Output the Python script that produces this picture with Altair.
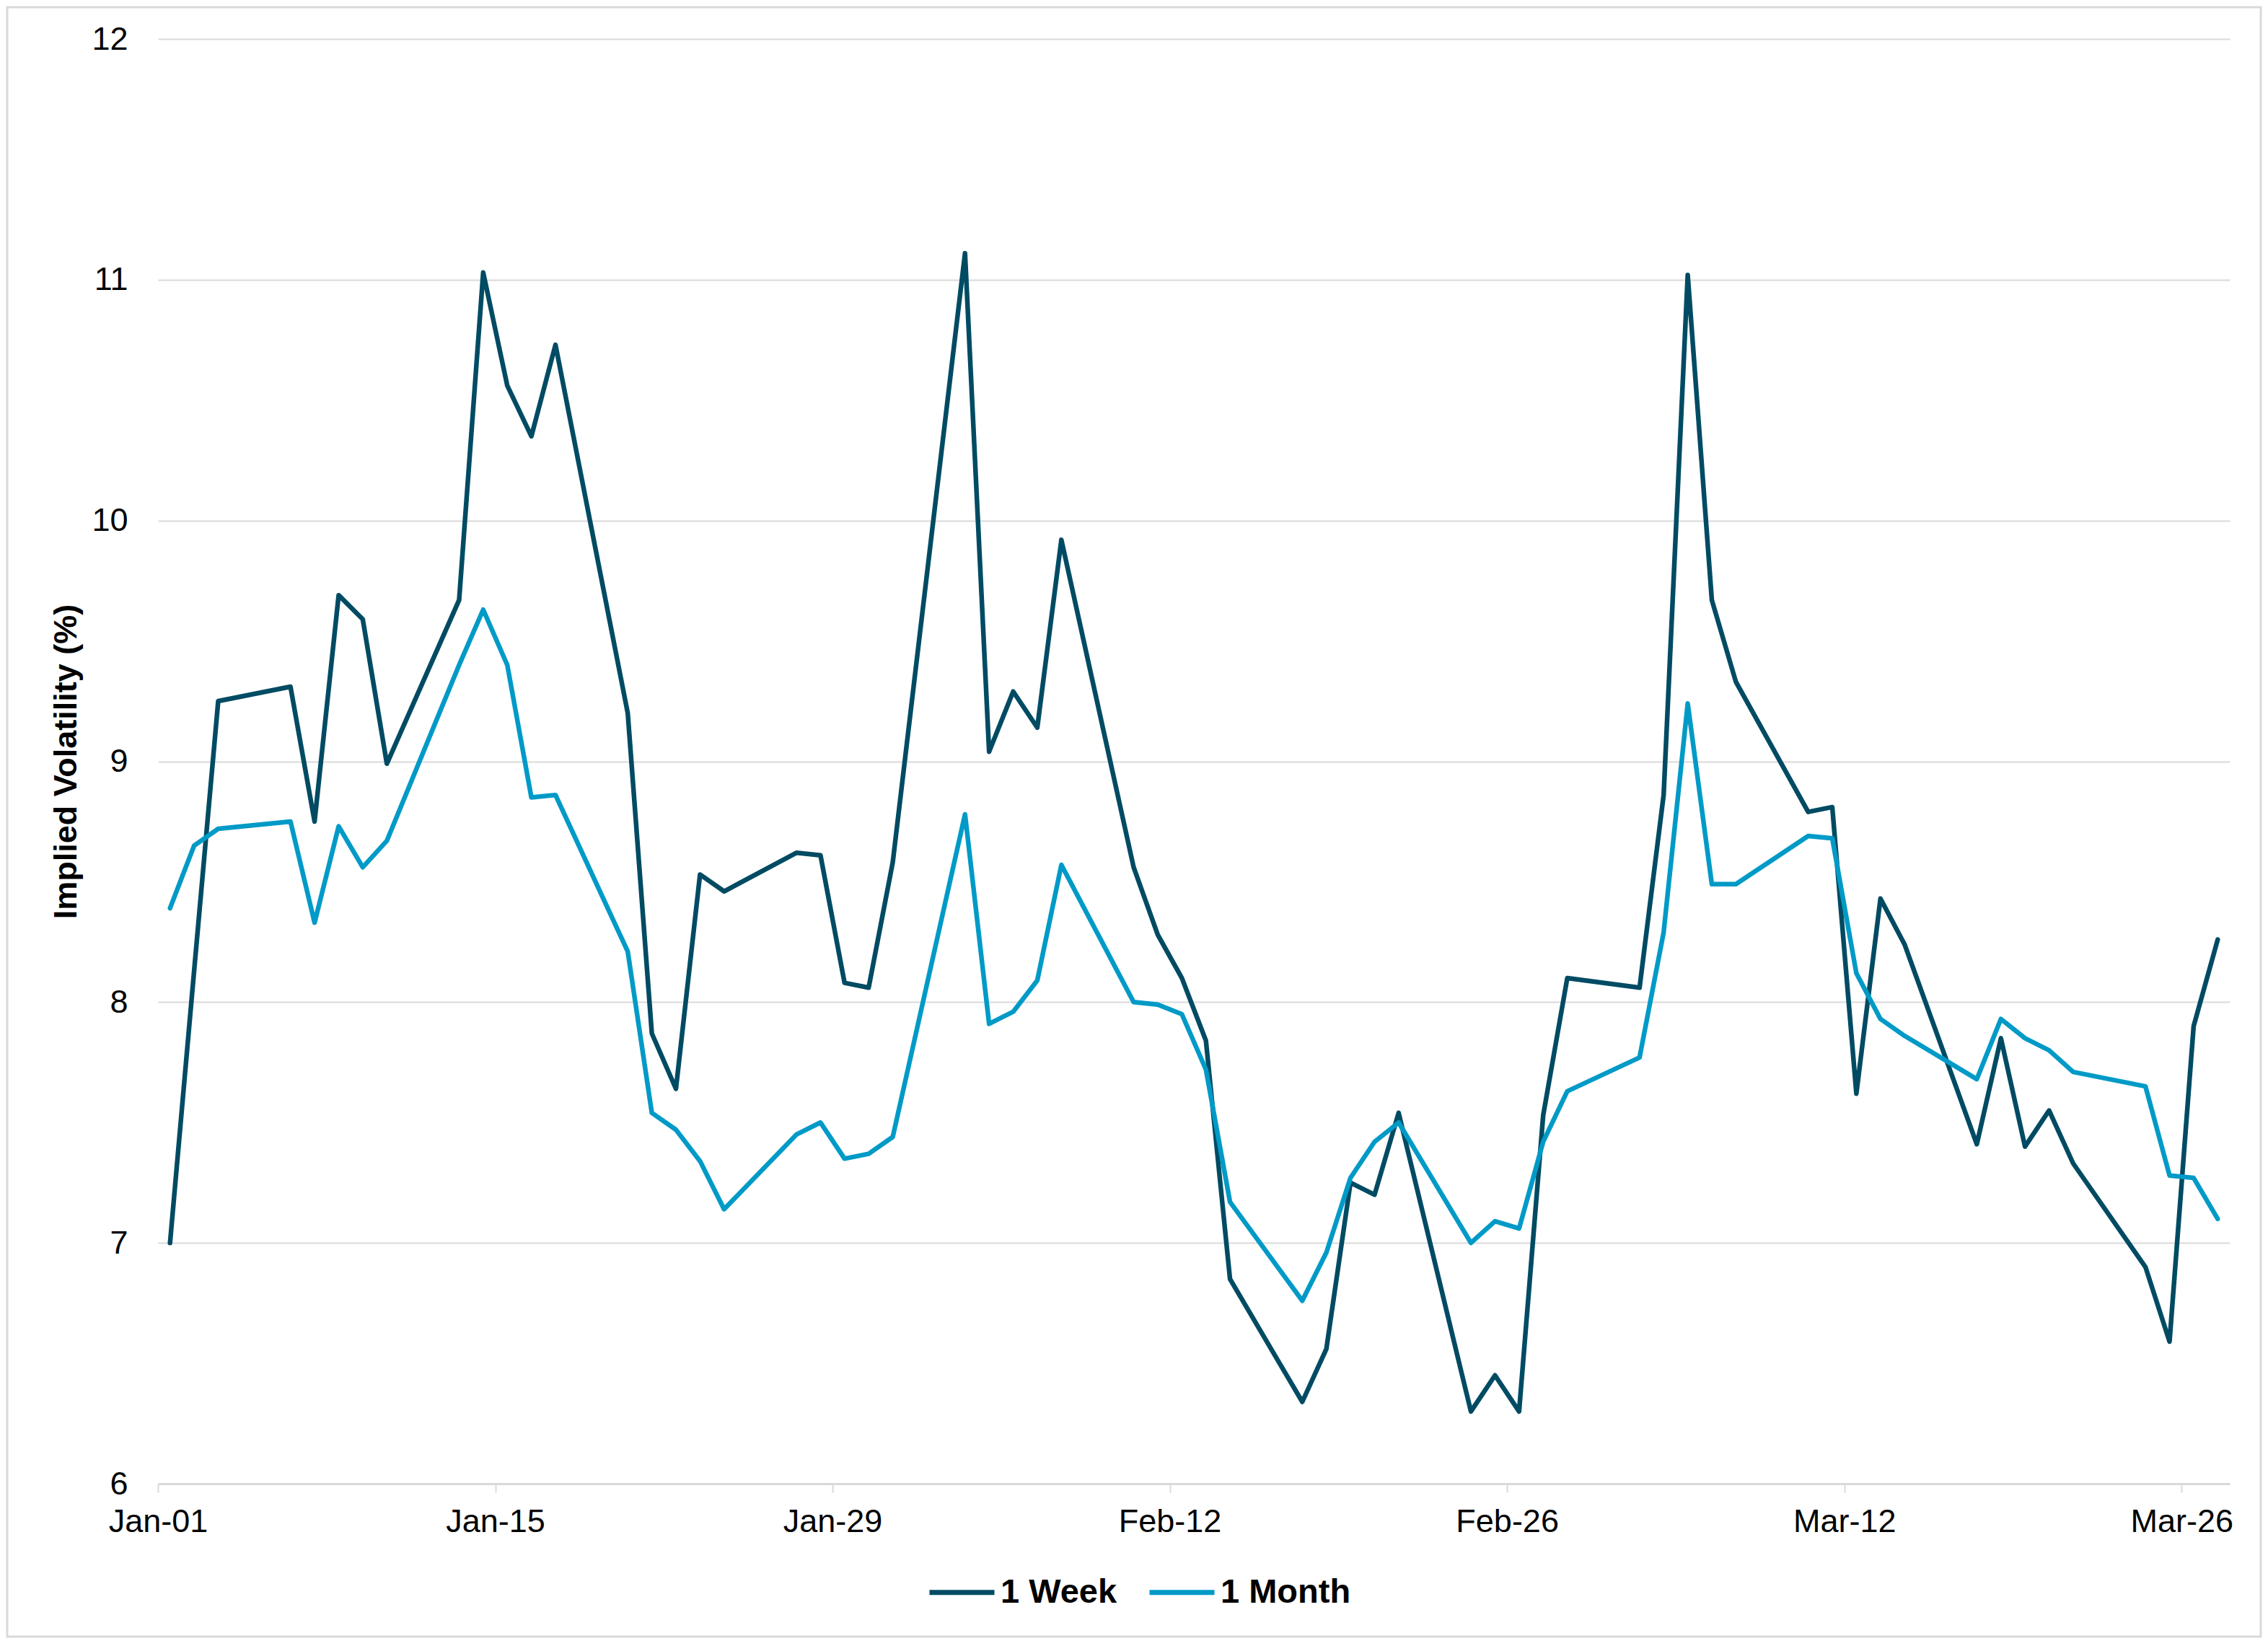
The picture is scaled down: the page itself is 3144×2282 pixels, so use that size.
import altair as alt
import pandas as pd

# Business days, 2025
dates = [
    "2025-01-01", "2025-01-02", "2025-01-03", "2025-01-06", "2025-01-07", "2025-01-08",
    "2025-01-09", "2025-01-10", "2025-01-13", "2025-01-14", "2025-01-15", "2025-01-16",
    "2025-01-17", "2025-01-20", "2025-01-21", "2025-01-22", "2025-01-23", "2025-01-24",
    "2025-01-27", "2025-01-28", "2025-01-29", "2025-01-30", "2025-01-31",
    "2025-02-03", "2025-02-04", "2025-02-05", "2025-02-06", "2025-02-07",
    "2025-02-10", "2025-02-11", "2025-02-12", "2025-02-13", "2025-02-14",
    "2025-02-17", "2025-02-18", "2025-02-19", "2025-02-20", "2025-02-21",
    "2025-02-24", "2025-02-25", "2025-02-26", "2025-02-27", "2025-02-28",
    "2025-03-03", "2025-03-04", "2025-03-05", "2025-03-06", "2025-03-07",
    "2025-03-10", "2025-03-11", "2025-03-12", "2025-03-13", "2025-03-14",
    "2025-03-17", "2025-03-18", "2025-03-19", "2025-03-20", "2025-03-21",
    "2025-03-24", "2025-03-25", "2025-03-26", "2025-03-27",
]

one_week = [
    7.00, 8.13, 9.25, 9.31, 8.75, 9.69,
    9.59, 8.99, 9.67, 11.03, 10.56, 10.35,
    10.73, 9.20, 7.87, 7.64, 8.53, 8.46,
    8.62, 8.61, 8.08, 8.06, 8.58,
    11.11, 9.04, 9.29, 9.14, 9.92,
    8.56, 8.28, 8.10, 7.84, 6.85,
    6.34, 6.56, 7.25, 7.20, 7.54,
    6.30, 6.45, 6.30, 7.53, 8.10,
    8.06, 8.86, 11.02, 9.67, 9.33,
    8.79, 8.81, 7.62, 8.43, 8.24,
    7.41, 7.85, 7.40, 7.55, 7.33,
    6.90, 6.59, 7.90, 8.26,
]

one_month = [
    8.39, 8.65, 8.72, 8.75, 8.33, 8.73,
    8.56, 8.67, 9.40, 9.63, 9.40, 8.85,
    8.86, 8.21, 7.54, 7.47, 7.34, 7.14,
    7.45, 7.50, 7.35, 7.37, 7.44,
    8.78, 7.91, 7.96, 8.09, 8.57,
    8.00, 7.99, 7.95, 7.72, 7.17,
    6.76, 6.96, 7.27, 7.42, 7.50,
    7.00, 7.09, 7.06, 7.42, 7.63,
    7.77, 8.29, 9.24, 8.49, 8.49,
    8.69, 8.68, 8.12, 7.93, 7.86,
    7.68, 7.93, 7.85, 7.80, 7.71,
    7.65, 7.28, 7.27, 7.10,
]

series_names = ["1 Week", "1 Month"]
series_colors = ["#004b63", "#009ac7"]

tick_dates = ["Jan-01", "Jan-15", "Jan-29", "Feb-12", "Feb-26", "Mar-12", "Mar-26"]
tick_iso = ["2025-01-01", "2025-01-15", "2025-01-29", "2025-02-12",
            "2025-02-26", "2025-03-12", "2025-03-26"]
y_ticks = [6, 7, 8, 9, 10, 11, 12]

rows = []
for name, vals in zip(series_names, [one_week, one_month]):
    for d, v in zip(dates, vals):
        rows.append({"date": d + "T12:00:00Z", "series": name, "value": v})
df = pd.DataFrame(rows)


def dt(iso):
    y, m, d = [int(p) for p in iso.split("-")]
    return alt.DateTime(year=y, month=m, date=d, utc=True)


FONT = "Liberation Sans"
W, H = 2872, 2003

lines = alt.Chart(df).mark_line(strokeWidth=6.5, strokeJoin="round", strokeCap="round").encode(
    x=alt.X(
        "date:T",
        scale=alt.Scale(type="utc", domain=[dt("2025-01-01"), dt("2025-03-28")]),
        axis=alt.Axis(
            values=[dt(t) for t in tick_iso],
            format="%b-%d",
            title=None,
            grid=False,
            labelFlush=False,
            labelOverlap=False,
            tickSize=12,
            tickWidth=2,
            tickColor="#d9d9d9",
            domainColor="#d9d9d9",
            domainWidth=3,
            labelPadding=18,
            labelFontSize=45,
            labelColor="#000000",
            labelFont=FONT,
        ),
    ),
    y=alt.Y(
        "value:Q",
        scale=alt.Scale(domain=[6, 12], nice=False, zero=False),
        axis=alt.Axis(
            values=y_ticks,
            title="Implied Volatility (%)",
            titleFontSize=45,
            titleFontWeight="bold",
            titleFont=FONT,
            titleColor="#000000",
            titlePadding=12,
            ticks=False,
            domain=False,
            grid=True,
            gridColor="#d9d9d9",
            gridWidth=2,
            labelPadding=42,
            labelFontSize=45,
            labelColor="#000000",
            labelFont=FONT,
        ),
    ),
    color=alt.Color(
        "series:N",
        scale=alt.Scale(domain=series_names, range=series_colors),
        legend=alt.Legend(
            title=None,
            orient="none",
            direction="horizontal",
            legendX=1066,
            legendY=2105,
            symbolType="stroke",
            symbolSize=8100,
            symbolStrokeWidth=7,
            labelFontSize=47,
            labelFontWeight="bold",
            labelFont=FONT,
            labelColor="#000000",
            labelOffset=5,
            labelLimit=600,
            columnPadding=30,
            padding=0,
        ),
    ),
    detail="series:N",
)

frame_df = pd.DataFrame({"k": [0]})
frame = alt.Chart(frame_df).mark_rect(
    filled=False, stroke="#d9d9d9", strokeWidth=3, clip=False
).encode(
    x=alt.value(-209),
    x2=alt.value(W + 43),
    y=alt.value(-44),
    y2=alt.value(H + 212),
)

chart = alt.layer(frame, lines).properties(
    width=W,
    height=H,
    autosize=alt.AutoSizeParams(type="none"),
    padding={"left": 211, "top": 46, "right": 45, "bottom": 215},
).configure(font=FONT).configure_view(stroke=None, strokeWidth=0)

chart.save("out.html", embed_options={"renderer": "svg", "actions": False})
